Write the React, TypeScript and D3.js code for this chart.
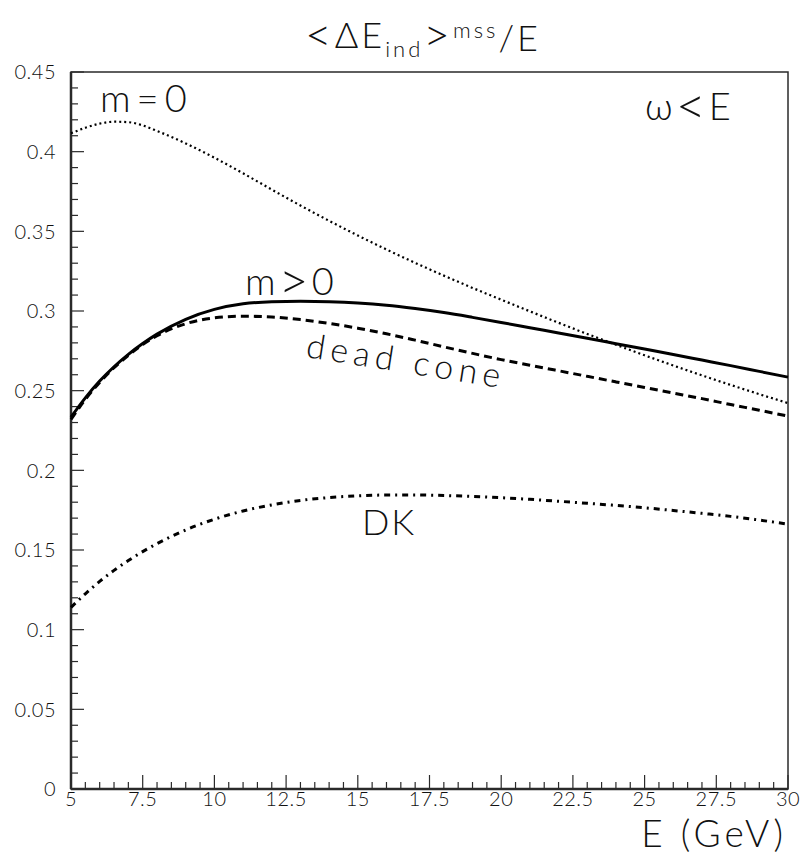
import React from "react";
import * as d3 from "d3";

const energies = [5, 5.5, 6, 6.5, 7, 7.5, 8, 9, 10, 11, 12, 13, 14, 15, 16, 17, 18, 19, 20, 21, 22, 23, 24, 25, 26, 27, 28, 29, 30];
const massless = [0.4115, 0.415, 0.4176, 0.4188, 0.4185, 0.4165, 0.413, 0.4052, 0.3962, 0.3864, 0.3762, 0.3662, 0.3566, 0.3474, 0.3386, 0.3302, 0.3222, 0.3145, 0.3071, 0.2998, 0.2926, 0.2856, 0.2788, 0.2722, 0.2658, 0.2596, 0.2536, 0.2478, 0.2422];
const massive = [0.2334, 0.2455, 0.256, 0.265, 0.2728, 0.2796, 0.2855, 0.2948, 0.301, 0.3045, 0.3058, 0.3061, 0.3058, 0.305, 0.3036, 0.3015, 0.299, 0.296, 0.2928, 0.2895, 0.2862, 0.2829, 0.2795, 0.2761, 0.2727, 0.2692, 0.2657, 0.2621, 0.2585];
const deadCone = [0.232, 0.2445, 0.2552, 0.2644, 0.2722, 0.279, 0.2845, 0.292, 0.2957, 0.2967, 0.2962, 0.2946, 0.2922, 0.2892, 0.2857, 0.2817, 0.2775, 0.2734, 0.2695, 0.266, 0.2625, 0.259, 0.2555, 0.252, 0.2485, 0.245, 0.2413, 0.2377, 0.234];
const dk = [0.114, 0.1225, 0.1303, 0.1372, 0.1434, 0.149, 0.154, 0.1626, 0.1693, 0.1745, 0.1783, 0.1811, 0.1829, 0.184, 0.1845, 0.1845, 0.1842, 0.1836, 0.1828, 0.1818, 0.1806, 0.1793, 0.178, 0.1765, 0.1748, 0.173, 0.1711, 0.1688, 0.1662];

const xTicks = [5, 7.5, 10, 12.5, 15, 17.5, 20, 22.5, 25, 27.5, 30];
const xTickLabels = ["5", "7.5", "10", "12.5", "15", "17.5", "20", "22.5", "25", "27.5", "30"];
const yTicks = [0, 0.05, 0.1, 0.15, 0.2, 0.25, 0.3, 0.35, 0.4, 0.45];
const yTickLabels = ["0", "0.05", "0.1", "0.15", "0.2", "0.25", "0.3", "0.35", "0.4", "0.45"];

const W = 802, H = 855;
const L = 71, R = 788, T = 72, B = 789;
const FONT = "Lato, 'DejaVu Sans', sans-serif";

export default function App() {
  const x = d3.scaleLinear().domain([5, 30]).range([L, R]);
  const y = d3.scaleLinear().domain([0, 0.45]).range([B, T]);
  const mk = (vals: number[]) =>
    d3.line<number>().x((_, i) => x(energies[i])).y((v) => y(v)).curve(d3.curveMonotoneX)(vals) || "";

  const xMinor = d3.range(5, 30.001, 0.5);
  const yMinor = d3.range(0, 0.4501, 0.01);
  const axisColor = "#2a2a2a";
  const txt = { fontFamily: FONT, fontWeight: 300, fill: "#111" } as const;

  return (
    <svg width={W} height={H} style={{ position: "absolute", left: 0, top: 0, background: "#fff" }}>
      <rect x={0} y={0} width={W} height={H} fill="#fff" />
      {/* frame */}
      <rect x={L} y={T} width={R - L} height={B - T} fill="none" stroke={axisColor} strokeWidth={1.5} />
      <line x1={L} x2={L} y1={T} y2={B} stroke={axisColor} strokeWidth={2.5} />
      <line x1={L} x2={R} y1={B} y2={B} stroke={axisColor} strokeWidth={2.5} />
      {/* ticks */}
      {yMinor.map((v, i) => {
        const major = i % 5 === 0;
        return <line key={"ym" + i} x1={L} x2={L + (major ? 13 : 7)} y1={y(v)} y2={y(v)} stroke={axisColor} strokeWidth={1.2} />;
      })}
      {xMinor.map((v, i) => {
        const major = i % 5 === 0;
        return <line key={"xm" + i} x1={x(v)} x2={x(v)} y1={B} y2={B - (major ? 14 : 7)} stroke={axisColor} strokeWidth={1.2} />;
      })}
      {yTicks.map((v, i) => (
        <text key={"yl" + i} x={56} y={y(v)} dy="0.36em" textAnchor="end" fontSize={20} letterSpacing={0.5} {...txt}>
          {yTickLabels[i]}
        </text>
      ))}
      {xTicks.map((v, i) => (
        <text key={"xl" + i} x={x(v)} y={806} textAnchor="middle" fontSize={20} letterSpacing={0.5} {...txt}>
          {xTickLabels[i]}
        </text>
      ))}
      {/* curves */}
      <path d={mk(massless)} fill="none" stroke="#000" strokeWidth={2.2} strokeDasharray="2 3" />
      <path d={mk(massive)} fill="none" stroke="#000" strokeWidth={3} />
      <path d={mk(deadCone)} fill="none" stroke="#000" strokeWidth={3} strokeDasharray="8 5" />
      <path d={mk(dk)} fill="none" stroke="#000" strokeWidth={3} strokeDasharray="6 5 2 5" />
      {/* title */}
      <text x={423} y={48} textAnchor="middle" fontSize={36} letterSpacing={3} {...txt}>
        <tspan fontSize={46} dy={3}>{"<"}</tspan>
        <tspan dy={-3}>ΔE</tspan>
        <tspan fontSize={22} dy={9}>ind</tspan>
        <tspan fontSize={46} dy={-6}>{">"}</tspan>
        <tspan fontSize={22} dy={-13}>mss</tspan>
        <tspan dy={13}>/E</tspan>
      </text>
      {/* annotations */}
      <text x={100} y={112} fontSize={38} letterSpacing={6} {...txt}>m=0</text>
      <text x={645} y={120} fontSize={38} letterSpacing={3} {...txt}>
        ω<tspan fontSize={52} dy={4}>{"<"}</tspan><tspan dy={-4}>E</tspan>
      </text>
      <text x={245} y={295} fontSize={38} letterSpacing={3} {...txt}>
        m<tspan fontSize={52} dy={4}>{">"}</tspan><tspan dy={-4}>0</tspan>
      </text>
      <text x={305} y={357} fontSize={34} letterSpacing={5.5} transform="rotate(9 305 357)" {...txt}>dead cone</text>
      <text x={362} y={535} fontSize={36} letterSpacing={2} {...txt}>DK</text>
      <text x={787} y={847} textAnchor="end" fontSize={37} letterSpacing={4} {...txt}>E (GeV)</text>
    </svg>
  );
}
